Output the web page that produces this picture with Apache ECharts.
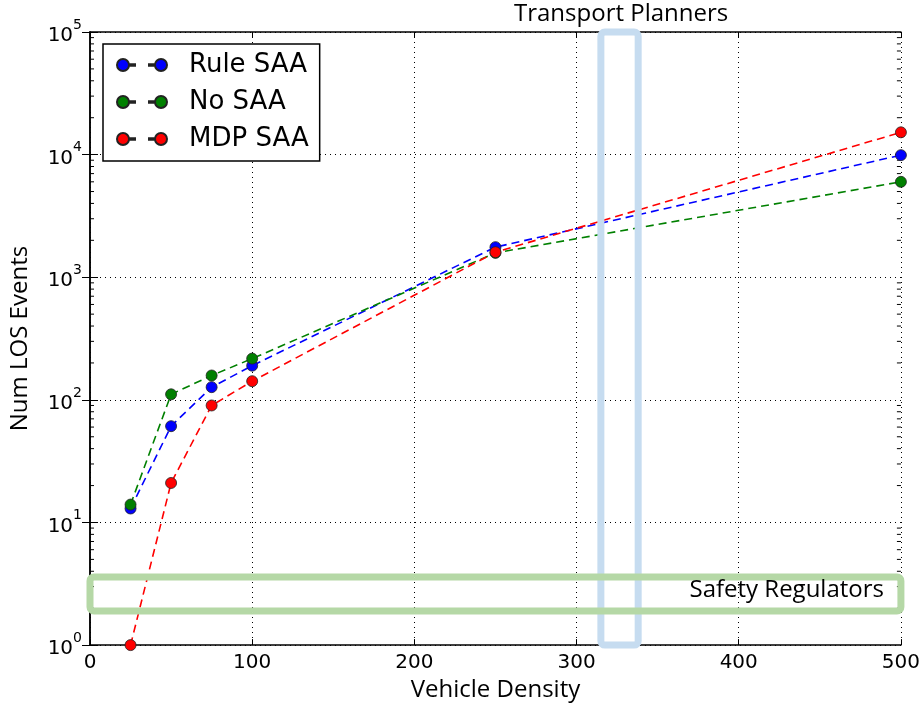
<!DOCTYPE html>
<html><head><meta charset="utf-8">
<script src="https://cdn.jsdelivr.net/npm/echarts@6/dist/echarts.min.js"></script>
<style>html,body{margin:0;padding:0;background:#fff}#c{width:923px;height:707px}</style>
</head><body><div id="c"></div>
<script>
const vehicleDensity = [25, 50, 75, 100, 250, 500];
const ruleSAA = [13, 61, 127, 190, 1760, 9900];
const noSAA = [14, 111, 158, 217, 1580, 6000];
const mdpSAA = [1, 21, 90, 142, 1600, 15200];
const xTicks = [0, 100, 200, 300, 400, 500];
const transportBox = [315, 338, 1, 100000];
const safetyBox = [0, 500, 1.9, 3.6];

const chart = echarts.init(document.getElementById('c'));
const pair = (ys) => vehicleDensity.map((x, i) => [x, ys[i]]);
const font = 'DejaVu Sans';
const legendIcon = 'path://M0,6a6,6 0 1,0 12,0a6,6 0 1,0 -12,0z M12,5.2h6v1.6h-6z M32,5.2h6v1.6h-6z M38,6a6,6 0 1,0 12,0a6,6 0 1,0 -12,0z';

function lineSeries(name, color, ys) {
  return {
    name, type: 'line', data: pair(ys), color,
    symbol: 'circle', symbolSize: 11,
    lineStyle: { color, width: 1.6, type: [8, 5] },
    itemStyle: { color, borderColor: '#222', borderWidth: 0.8 },
    emphasis: { disabled: true }, z: 3, animation: false
  };
}

function boxSeries(name, box, color) {
  return {
    type: 'custom', name, silent: true, z: 5, animation: false,
    data: [box],
    renderItem: (params, api) => {
      const p1 = api.coord([api.value(0), api.value(3)]);
      const p2 = api.coord([api.value(1), api.value(2)]);
      return {
        type: 'rect',
        shape: { x: p1[0], y: p1[1], width: p2[0] - p1[0], height: p2[1] - p1[1], r: 4 },
        style: { fill: 'none', stroke: color, lineWidth: 7 }
      };
    }
  };
}

const minorTickSeries = {
  type: 'custom', silent: true, z: 2, animation: false,
  data: [[0, 1]],
  renderItem: (params, api) => {
    const children = [];
    const xl = api.coord([0, 1])[0];
    const xr = api.coord([500, 1])[0];
    for (let d = 0; d < 5; d++) {
      for (let m = 2; m <= 9; m++) {
        const y = api.coord([0, m * Math.pow(10, d)])[1];
        children.push({ type: 'line', shape: { x1: xl, y1: y, x2: xl + 4, y2: y }, style: { stroke: '#000', lineWidth: 1 } });
        children.push({ type: 'line', shape: { x1: xr, y1: y, x2: xr - 4, y2: y }, style: { stroke: '#000', lineWidth: 1 } });
      }
    }
    return { type: 'group', children };
  }
};

const supFmt = (v) => {
  const e = Math.round(Math.log10(v));
  return '{b|10}{s|' + e + '}';
};

chart.setOption({
  animation: false,
  backgroundColor: '#fff',
  grid: { left: 90, right: 21, top: 32, bottom: 59, containLabel: false },
  legend: {
    left: 103, top: 44,
    orient: 'vertical',
    data: ['Rule SAA', 'No SAA', 'MDP SAA'],
    icon: legendIcon, itemWidth: 50, itemHeight: 12, itemGap: 11,
    backgroundColor: '#fff', borderColor: '#000', borderWidth: 1.5, borderRadius: 0,
    padding: [8, 11, 9, 13],
    textStyle: { fontFamily: font, fontSize: 26, lineHeight: 26, color: '#000', padding: [0, 0, 0, 17] },
    selectedMode: false, z: 10
  },
  xAxis: [{
    type: 'value', min: 0, max: 500, interval: 100,
    name: 'Vehicle Density', nameLocation: 'middle', nameGap: 31,
    nameTextStyle: { fontFamily: 'Open Sans', fontSize: 24, color: '#000' },
    axisLine: { lineStyle: { color: '#000', width: 1.5 } },
    axisTick: { inside: true, length: 6, lineStyle: { color: '#000' } },
    axisLabel: { fontFamily: font, fontSize: 20, color: '#000', margin: 8 },
    splitLine: { show: true, lineStyle: { color: '#000', type: [1, 4], width: 1 } }
  }, {
    type: 'value', min: 0, max: 500, interval: 100, position: 'top',
    axisLine: { lineStyle: { color: '#000', width: 1.5 } },
    axisTick: { inside: true, length: 6, lineStyle: { color: '#000' } },
    axisLabel: { show: false }, splitLine: { show: false }
  }],
  yAxis: [{
    type: 'log', logBase: 10, min: 1, max: 100000,
    name: 'Num LOS Events', nameLocation: 'middle', nameGap: 58,
    nameTextStyle: { fontFamily: 'Open Sans', fontSize: 24, color: '#000' },
    axisLine: { show: true, lineStyle: { color: '#000', width: 1.5 } },
    axisTick: { show: true, inside: true, length: 8, lineStyle: { color: '#000' } },
    axisLabel: {
      formatter: supFmt, margin: 8,
      rich: {
        b: { fontFamily: font, fontSize: 20, color: '#000', verticalAlign: 'bottom', padding: [8, 0, 0, 0] },
        s: { fontFamily: font, fontSize: 14, color: '#000', verticalAlign: 'top', padding: [0, 0, 10, 0] }
      }
    },
    splitLine: { show: true, lineStyle: { color: '#000', type: [1, 4], width: 1 } }
  }, {
    type: 'log', logBase: 10, min: 1, max: 100000, position: 'right',
    axisLine: { show: true, lineStyle: { color: '#000', width: 1.5 } },
    axisTick: { show: true, inside: true, length: 8, lineStyle: { color: '#000' } },
    axisLabel: { show: false }, splitLine: { show: false }
  }],
  graphic: [
    { type: 'text', left: 514, top: 2, z: 20, style: { text: 'Transport Planners', font: '24px "Open Sans"', fill: '#000' } },
    { type: 'text', right: 39, top: 578, z: 20, style: { text: 'Safety Regulators', font: '24px "Open Sans"', fill: '#000' } }
  ],
  series: [
    minorTickSeries,
    lineSeries('Rule SAA', '#0000ff', ruleSAA),
    lineSeries('No SAA', '#008000', noSAA),
    lineSeries('MDP SAA', '#ff0000', mdpSAA),
    boxSeries('transport', transportBox, '#c6dcf0'),
    boxSeries('safety', safetyBox, '#b5d8a6')
  ]
});
</script></body></html>
